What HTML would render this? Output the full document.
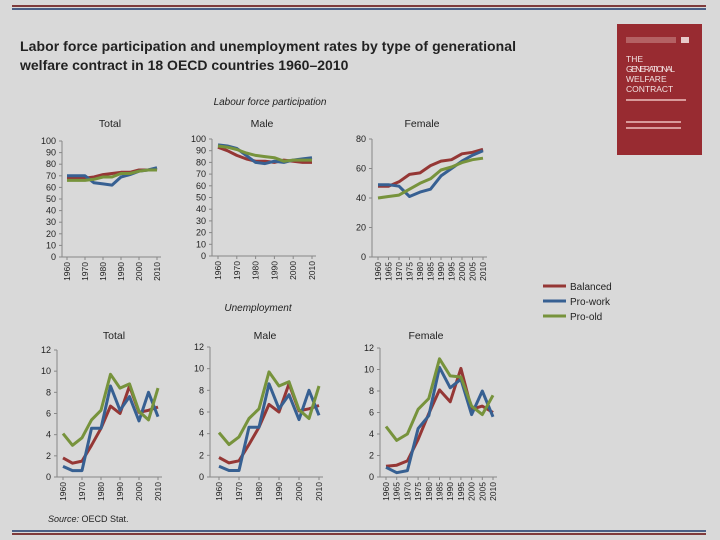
<!DOCTYPE html>
<html><head><meta charset="utf-8"><style>
body{margin:0;background:#d9d9d9;width:720px;height:540px;overflow:hidden;font-family:"Liberation Sans",sans-serif}
svg{display:block}
</style></head><body>
<svg id="s" width="720" height="540" xmlns="http://www.w3.org/2000/svg">
<rect x="0" y="0" width="720" height="540" fill="#d9d9d9"/>
<rect x="12" y="5" width="694" height="2" fill="#7f3b3b"/>
<rect x="12" y="8" width="694" height="2" fill="#4a5f85"/>
<rect x="12" y="530" width="694" height="2" fill="#4a5f85"/>
<rect x="12" y="533" width="694" height="2" fill="#7f3b3b"/>
<text x="20" y="51" font-size="14" font-weight="bold" fill="#222" textLength="496">Labor force participation and unemployment rates by type of generational</text>
<text x="20" y="70" font-size="14" font-weight="bold" fill="#222">welfare contract in 18 OECD countries 1960–2010</text>
<g>
<rect x="617" y="24" width="85" height="131" fill="#982b31"/>
<text x="626" y="62" font-size="8.5" fill="#f3e3e3">THE</text>
<text x="626" y="72" font-size="8.5" fill="#f3e3e3" textLength="49">GENERATIONAL</text>
<text x="626" y="82" font-size="8.5" fill="#f3e3e3">WELFARE</text>
<text x="626" y="92" font-size="8.5" fill="#f3e3e3">CONTRACT</text>
<rect x="626" y="37" width="50" height="6" fill="#c78585" opacity="0.6"/>
<rect x="681" y="37" width="8" height="6" fill="#e8caca"/>
<rect x="626" y="99" width="60" height="2" fill="#d89a9a"/>
<rect x="626" y="121" width="55" height="2" fill="#d89a9a"/>
<rect x="626" y="127" width="55" height="2" fill="#d89a9a"/>
</g>
<text x="270" y="105" font-size="10" font-style="italic" text-anchor="middle" fill="#222">Labour force participation</text>
<text x="258" y="311" font-size="10" font-style="italic" text-anchor="middle" fill="#222">Unemployment</text>
<text x="48" y="522" font-size="9" fill="#222"><tspan font-style="italic">Source:</tspan> OECD Stat.</text>
<g id="charts"></g>
<g id="legend"></g>
</svg>
<script>
const years=[1960,1965,1970,1975,1980,1985,1990,1995,2000,2005,2010];
const lfpTotalBalanced=[68,68,68,69,71,72,73,73,75,75,76];
const lfpTotalProWork=[70,70,70,64,63,62,69,71,74,75,77];
const lfpTotalProOld=[66,66,66,67,69,69,72,72,74,75,75];
const lfpMaleBalanced=[93,90,86,83,81,81,80,82,81,80,80];
const lfpMaleProWork=[95,94,92,86,80,79,81,80,82,83,84];
const lfpMaleProOld=[94,93,91,88,86,85,84,81,82,82,82];
const lfpFemaleBalanced=[48,48,51,56,57,62,65,66,70,71,73];
const lfpFemaleProWork=[49,49,48,41,44,46,55,60,65,69,72];
const lfpFemaleProOld=[40,41,42,46,50,53,59,61,64,66,67];
const unTotalBalanced=[1.8,1.3,1.5,3.0,4.6,6.7,6.0,8.6,6.1,6.3,6.6];
const unTotalProWork=[1.0,0.6,0.6,4.6,4.6,8.6,6.3,7.6,5.3,8.0,5.7];
const unTotalProOld=[4.1,3.0,3.7,5.4,6.3,9.7,8.4,8.8,6.2,5.4,8.4];
const unMaleBalanced=[1.8,1.3,1.5,3.0,4.6,6.7,6.0,8.6,6.1,6.3,6.6];
const unMaleProWork=[1.0,0.6,0.6,4.6,4.6,8.6,6.3,7.6,5.3,8.0,5.7];
const unMaleProOld=[4.1,3.0,3.7,5.4,6.3,9.7,8.4,8.8,6.2,5.4,8.4];
const unFemaleBalanced=[1.0,1.1,1.5,3.5,5.9,8.1,7.0,10.1,6.3,6.6,6.0];
const unFemaleProWork=[0.9,0.4,0.6,4.5,5.7,10.2,8.3,9.1,5.8,8.0,5.6];
const unFemaleProOld=[4.7,3.4,4.0,6.3,7.3,11.0,9.4,9.3,6.6,5.8,7.6];
const ticks100=[0,10,20,30,40,50,60,70,80,90,100];
const ticks80=[0,20,40,60,80];
const ticks12=[0,2,4,6,8,10,12];
const decadeLabels=[1960,1970,1980,1990,2000,2010];
const seriesNames=['Balanced','Pro-work','Pro-old'];
const colors=['#953735','#376092','#77933c'];
const NS='http://www.w3.org/2000/svg';
const root=document.getElementById('charts');
function mk(tag,attrs,parent){const e=document.createElementNS(NS,tag);for(const k in attrs)e.setAttribute(k,attrs[k]);(parent||root).appendChild(e);return e;}
function chart(cfg){
  const g=mk('g',{});
  
  
  const xs=v=>cfg.x0+(v-1960)/50*(cfg.x1-cfg.x0);
  const ys=v=>cfg.y0-(v/cfg.max)*(cfg.y0-cfg.yTop);
  const t=mk('text',{x:cfg.tx,y:cfg.ty,'font-size':10.5,'text-anchor':'middle',fill:'#222'},g);t.textContent=cfg.title;
  
  
  mk('line',{x1:cfg.ax,y1:cfg.yTop,x2:cfg.ax,y2:cfg.y0,stroke:'#888','stroke-width':1},g);
  mk('line',{x1:cfg.ax,y1:cfg.y0,x2:cfg.x1+4,y2:cfg.y0,stroke:'#888','stroke-width':1},g);
  cfg.ticks.forEach(v=>{
    mk('line',{x1:cfg.ax-3,y1:ys(v),x2:cfg.ax,y2:ys(v),stroke:'#888'},g);
    const l=mk('text',{x:cfg.ax-6,y:ys(v)+3,'font-size':9,'text-anchor':'end',fill:'#222'},g);l.textContent=v;
    
    
  });
  cfg.xlabels.forEach(v=>{
    const x=xs(v);
    mk('line',{x1:x,y1:cfg.y0,x2:x,y2:cfg.y0+3,stroke:'#888'},g);
    const l=mk('text',{x:0,y:0,'font-size':8.5,'text-anchor':'end',fill:'#222',transform:`translate(${x+3},${cfg.y0+5}) rotate(-90)`},g);l.textContent=v;
    
    
  });
  cfg.series.forEach((s,i)=>{
    const p=mk('polyline',{points:s.map((v,j)=>xs(years[j]).toFixed(1)+','+ys(v).toFixed(1)).join(' '),fill:'none',stroke:colors[i],'stroke-width':3,'stroke-linejoin':'round'},g);
    
    
  });
}
chart({name:'lfp-total-chart',title:'Total',tx:110,ty:127,ax:62,x0:67,x1:157,y0:257,yTop:141,max:100,ticks:ticks100,xlabels:decadeLabels,series:[lfpTotalBalanced,lfpTotalProWork,lfpTotalProOld]});
chart({name:'lfp-male-chart',title:'Male',tx:262,ty:127,ax:212,x0:218,x1:312,y0:256,yTop:139,max:100,ticks:ticks100,xlabels:decadeLabels,series:[lfpMaleBalanced,lfpMaleProWork,lfpMaleProOld]});
chart({name:'lfp-female-chart',title:'Female',tx:422,ty:127,ax:372,x0:378,x1:483,y0:257,yTop:139,max:80,ticks:ticks80,xlabels:years,series:[lfpFemaleBalanced,lfpFemaleProWork,lfpFemaleProOld]});
chart({name:'unemployment-total-chart',title:'Total',tx:114,ty:339,ax:57,x0:63,x1:158,y0:477,yTop:350,max:12,ticks:ticks12,xlabels:decadeLabels,series:[unTotalBalanced,unTotalProWork,unTotalProOld]});
chart({name:'unemployment-male-chart',title:'Male',tx:265,ty:339,ax:210,x0:219,x1:319,y0:477,yTop:347,max:12,ticks:ticks12,xlabels:decadeLabels,series:[unMaleBalanced,unMaleProWork,unMaleProOld]});
chart({name:'unemployment-female-chart',title:'Female',tx:426,ty:339,ax:380,x0:386,x1:493,y0:477,yTop:348,max:12,ticks:ticks12,xlabels:years,series:[unFemaleBalanced,unFemaleProWork,unFemaleProOld]});
const lg=document.getElementById('legend');


seriesNames.forEach((n,i)=>{
  const y=286+i*15;
  const e=mk('g',{},lg);
  
  
  mk('line',{x1:543,y1:y,x2:566,y2:y,stroke:colors[i],'stroke-width':3},e);
  const t=mk('text',{x:570,y:y+4,'font-size':10,fill:'#222'},e);t.textContent=n;
});
</script>
</body></html>
